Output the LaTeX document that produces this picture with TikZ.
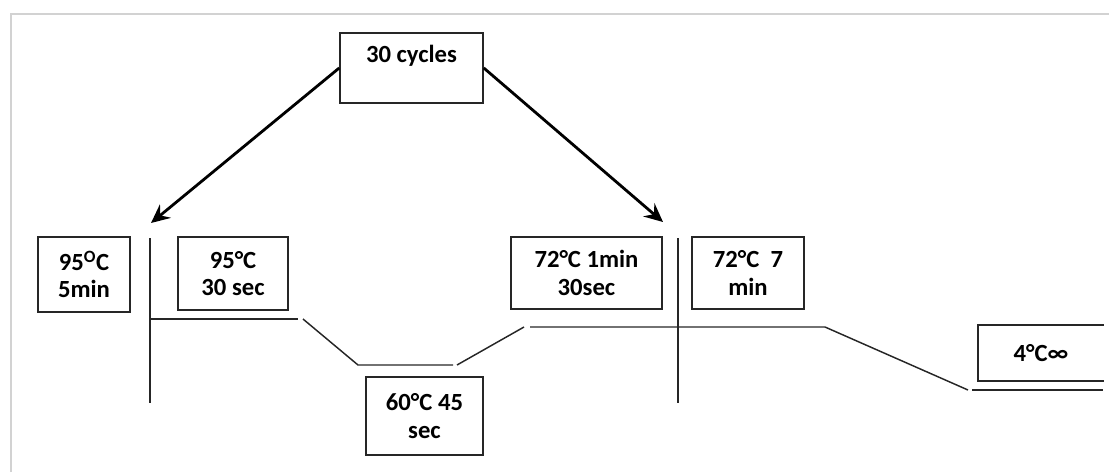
\documentclass[tikz,border=0pt]{standalone}
\usepackage{fontspec}
\setmainfont{Carlito}
\usetikzlibrary{arrows.meta}

\begin{document}
\begin{tikzpicture}[x=0.75pt, y=-0.75pt,
	box/.style={draw=black!85, line width=1.2pt, align=center, inner sep=0pt,
		font=\fontsize{18.5}{20.5}\selectfont\bfseries},
	prof/.style={draw=black!85, line width=1.1pt},
	cyc/.style={line width=2.1pt, -{Stealth[length=14pt, width=13pt, inset=5pt]}}]
	\useasboundingbox (0, 0) rectangle (1109, 472);
	% Frame:
	\draw[gray!35, line width=1.6pt] (11, 472) -- (11, 14) -- (1109, 14);
	% Boxes:
	\node[box, minimum width=107.25pt, minimum height=52.5pt] (cycles) at (411.5, 68) {30 cycles\\~};
	\node[box, minimum width=69pt, minimum height=56.25pt] (init) at (84, 274.5) {95\textsuperscript{O}C\\5min};
	\node[box, minimum width=82.5pt, minimum height=54.75pt] (denat) at (233, 273.5) {95°C\\30 sec};
	\node[box, minimum width=87.75pt, minimum height=58.5pt] (anneal) at (424.5, 416) {60°C 45\\sec};
	\node[box, minimum width=113.25pt, minimum height=54pt] (extend) at (586.5, 273) {72°C 1min\\30sec};
	\node[box, minimum width=84pt, minimum height=54pt] (final) at (748, 273) {72°C\ \ 7\\min};
	\node[box, draw=none, minimum width=93pt, minimum height=40.5pt] (hold) at (1041, 353) {4°C∞};
	\draw[prof, line width=1.2pt] (hold.north east) -- (hold.north west) -- (hold.south west) -- (hold.south east);
	% Profile:
	\coordinate (a1) at (150, 238);
	\coordinate (a2) at (150, 403);
	\coordinate (b1) at (678, 238);
	\coordinate (b2) at (678, 403);
	\coordinate (p1) at (150, 319);
	\coordinate (p2) at (298, 319);
	\coordinate (p3) at (303, 319);
	\coordinate (p4) at (358, 365);
	\coordinate (p5) at (453, 365);
	\coordinate (p6) at (457, 365);
	\coordinate (p7) at (524, 327);
	\coordinate (p8) at (530, 327);
	\coordinate (p9) at (825, 327);
	\coordinate (p10) at (968, 390);
	\coordinate (p11) at (972, 390);
	\coordinate (p12) at (1103, 390);
	\draw[prof] (a1) -- (a2);
	\draw[prof] (b1) -- (b2);
	\draw[prof] (p1) -- (p2);
	\draw[prof] (p3) -- (p4) -- (p5);
	\draw[prof] (p6) -- (p7);
	\draw[prof] (p8) -- (p9) -- (p10);
	\draw[prof] (p11) -- (p12);
	% Cycle arrows:
	\coordinate (l) at (151, 223);
	\coordinate (r) at (663, 222);
	\draw[cyc] (cycles.west) -- (l);
	\draw[cyc] (cycles.east) -- (r);
\end{tikzpicture}
\end{document}
